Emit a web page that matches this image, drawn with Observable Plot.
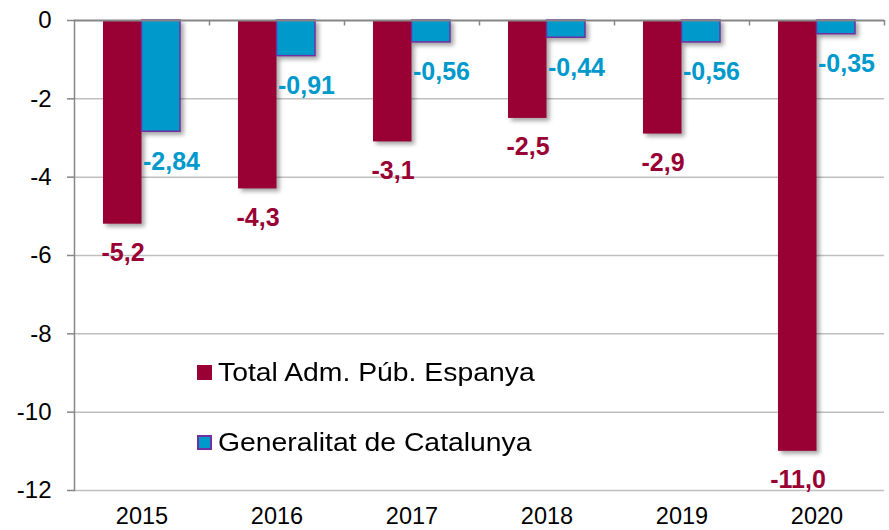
<!DOCTYPE html>
<html>
<head>
<meta charset="utf-8">
<script src="https://cdn.jsdelivr.net/npm/d3@7"></script>
<script src="https://cdn.jsdelivr.net/npm/@observablehq/plot@0.6"></script>
<style>
  html, body { margin: 0; padding: 0; background: #fff; }
  body { font-family: "Liberation Sans", Arial, sans-serif; }
  #wrap { position: relative; width: 889px; height: 530px; overflow: hidden; }
  #wrap svg g[aria-label="bar"] { filter: drop-shadow(3px 3px 2px rgba(0,0,0,0.35)); }
  .leg { position: absolute; left: 197px; height: 30px; display: flex; align-items: center;
         font-size: 26px; color: #000; white-space: nowrap; }
  .leg .tx { display: inline-block; transform: scaleX(1.09); transform-origin: left center; }
  .sw { display: inline-block; width: 15px; height: 15px; margin-right: 6px; box-sizing: border-box; }
</style>
</head>
<body>
<div id="wrap"></div>
<script>
const years = ["2015", "2016", "2017", "2018", "2019", "2020"];
const totalValues = [-5.2, -4.3, -3.1, -2.5, -2.9, -11.0];
const catValues = [-2.84, -0.91, -0.56, -0.44, -0.56, -0.35];
const seriesNames = ["Total Adm. Púb. Espanya", "Generalitat de Catalunya"];
const yTicks = [0, -2, -4, -6, -8, -10, -12];

const totalColor = "#990033";
const catColor = "#0099CC";
const catBorder = "#7030A0";

const totalRows = years.map((y, i) => ({year: y, value: totalValues[i], label: totalValues[i].toFixed(1).replace(".", ",")}));
const catRows = years.map((y, i) => ({year: y, value: catValues[i], label: catValues[i].toFixed(2).replace(".", ",")}));

const chart = Plot.plot({
  width: 889,
  height: 530,
  marginTop: 20,
  marginBottom: 40,
  marginLeft: 74,
  marginRight: 5,
  style: {fontFamily: '"Liberation Sans", Arial, sans-serif', background: "transparent", overflow: "visible", color: "#000"},
  x: {domain: years, paddingInner: 0.43, paddingOuter: 0.215, axis: null},
  y: {domain: [-12, 0], axis: null},
  marks: [
    Plot.ruleY(yTicks.filter(t => t !== 0), {stroke: "#BFBFBF", strokeWidth: 1.5}),
    Plot.barY(totalRows, {x: "year", y: "value", fill: totalColor, insetRight: 38.5}),
    Plot.barY(catRows, {x: "year", y: "value", fill: catColor, stroke: catBorder, strokeWidth: 1.5, insetLeft: 38.5}),
    Plot.ruleY([0], {stroke: "#868686", strokeWidth: 2}),
    Plot.ruleX(years, {x: d => d, dx: 67.5, y1: 0, y2: -0.14, stroke: "#868686", strokeWidth: 1.5}),
    Plot.frame({anchor: "left", stroke: "#868686", strokeWidth: 1.5}),
    Plot.axisY({ticks: yTicks, tickFormat: d => String(d), label: null, tickSize: 7, tickPadding: 16, fontSize: 24, stroke: "#868686", fill: "#000", strokeWidth: 1.5}),
    Plot.axisX({label: null, tickSize: 0, tickPadding: 17, fontSize: 23.5, fill: "#000"}),
    Plot.text(totalRows, {x: "year", y: "value", text: "label", dx: -19, dy: 29, fill: totalColor, fontWeight: "bold", fontSize: 25}),
    Plot.text(catRows, {x: "year", y: "value", text: "label", textAnchor: "start", dx: 1, dy: 30, fill: catColor, fontWeight: "bold", fontSize: 25})
  ]
});

const wrap = document.getElementById("wrap");
wrap.appendChild(chart);

const legendTops = [357, 427];
const swatchStyles = [
  `background:${totalColor};`,
  `background:${catColor};border:2px solid ${catBorder};`
];
seriesNames.forEach((name, i) => {
  const row = document.createElement("div");
  row.className = "leg";
  row.style.top = legendTops[i] + "px";
  const sw = document.createElement("span");
  sw.className = "sw";
  sw.setAttribute("style", swatchStyles[i]);
  const t = document.createElement("span");
  t.className = "tx";
  t.textContent = name;
  row.appendChild(sw);
  row.appendChild(t);
  wrap.appendChild(row);
});
</script>
</body>
</html>
